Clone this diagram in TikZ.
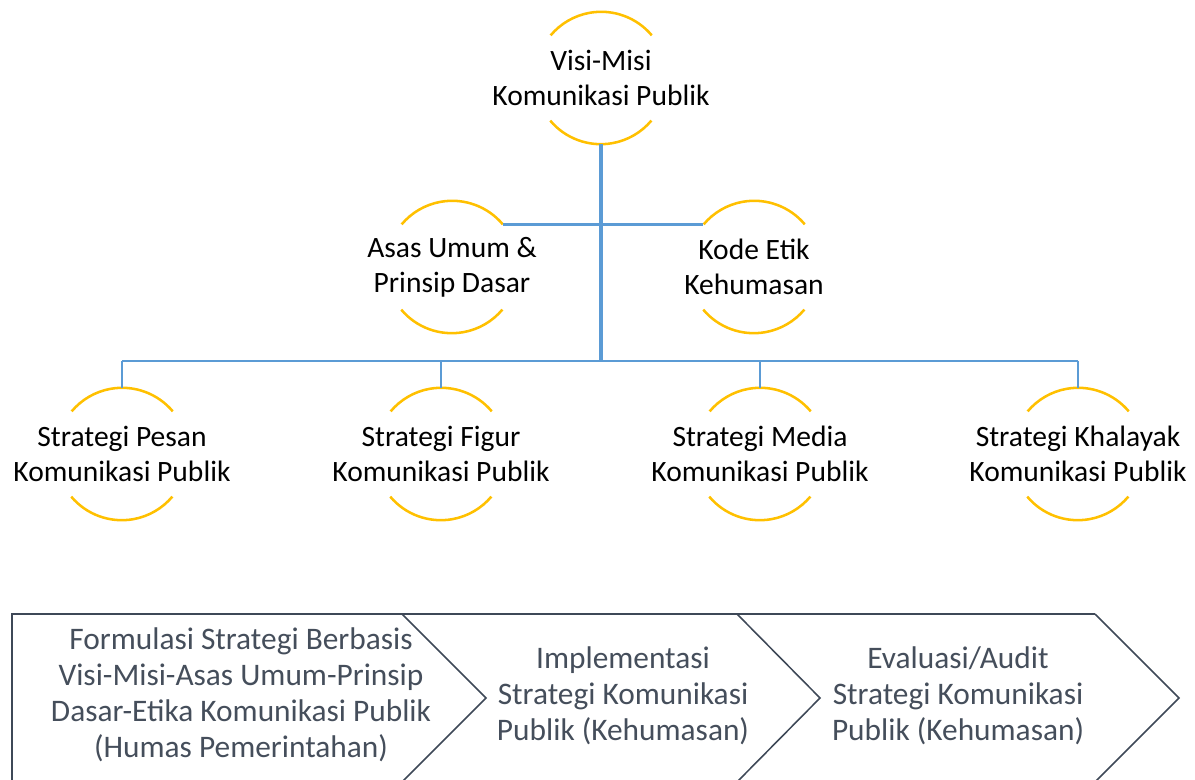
\documentclass[tikz,border=0pt]{standalone}
\usepackage{fontspec}
\setmainfont{Carlito}
\usepackage{tikz}

\definecolor{linkblue}{HTML}{5B9BD5}
\definecolor{ringgold}{HTML}{FFC000}
\definecolor{bandslate}{HTML}{3E4857}
\definecolor{bandtext}{HTML}{454E5B}

\begin{document}
\begin{tikzpicture}[x=0.025cm, y=0.025cm,
			ringspot/.style={circle, minimum size=3.3cm, inner sep=0pt},
			label/.style={align=center, font=\fontsize{21}{24.8}\selectfont},
			steptext/.style={align=center, text=bandtext, font=\fontsize{22.3}{25.5}\selectfont},
			ring/.style={ringgold, line width=1.8pt},
			trunk/.style={linkblue, line width=2.8pt},
			link/.style={linkblue, line width=2pt},
			twig/.style={linkblue, line width=1.8pt},
			chevron/.style={bandslate, line width=1.1pt, line join=miter}]
			\useasboundingbox (0,0) rectangle (1195,780);
			\clip (0,0) rectangle (1195,780);
			% the rings
			\node[ringspot] (visi) at (601,702) {};
			\node[ringspot] (asas) at (452,513) {};
			\node[ringspot] (kode) at (754,513) {};
			\node[ringspot] (pesan) at (122,326) {};
			\node[ringspot] (figur) at (441,326) {};
			\node[ringspot] (media) at (760,326) {};
			\node[ringspot] (khalayak) at (1078,326) {};
			\foreach \n in {visi,asas,kode,pesan,figur,media,khalayak} {
				\draw[ring] (\n.40) arc[start angle=40, end angle=140, radius=1.65cm];
				\draw[ring] (\n.220) arc[start angle=220, end angle=320, radius=1.65cm];
			}
			% the texts
			\node[label] (visi-t) at (visi) {Visi-Misi\\Komunikasi Publik};
			\node[label] (asas-t) at (asas) {Asas Umum \&\\Prinsip Dasar};
			\node[label] (kode-t) at (kode) {Kode Etik\\Kehumasan};
			\node[label] (pesan-t) at (pesan) {Strategi Pesan\\Komunikasi Publik};
			\node[label] (figur-t) at (figur) {Strategi Figur\\Komunikasi Publik};
			\node[label] (media-t) at (media) {Strategi Media\\Komunikasi Publik};
			\node[label] (khalayak-t) at (khalayak) {Strategi Khalayak\\Komunikasi Publik};
			% the lines
			\coordinate (hub) at (601,419);
			\draw[trunk] (visi.south) -- (hub);
			\draw[link] (asas.40) -- (kode.140);
			\draw[link] (pesan.north |- hub) -- (khalayak.north |- hub);
			\foreach \n in {pesan,figur,media,khalayak}
				\draw[twig] (\n.north |- hub) -- (\n.north);
			% the steps
			\draw[bandslate, line width=1.5pt] (12,-5) -- (12,166) -- (1095,166);
			\draw[chevron] (402,166) -- (486,82) -- (402,-2);
			\draw[chevron] (737,166) -- (820,82) -- (737,-2);
			\draw[chevron] (1095,166) -- (1179,82) -- (1095,-2);
			\node[steptext] (formulasi) at (241,85) {Formulasi Strategi Berbasis\\Visi-Misi-Asas Umum-Prinsip\\Dasar-Etika Komunikasi Publik\\(Humas Pemerintahan)};
			\node[steptext] (implementasi) at (623,84) {Implementasi\\Strategi Komunikasi\\Publik (Kehumasan)};
			\node[steptext] (evaluasi) at (958,84) {Evaluasi/Audit\\Strategi Komunikasi\\Publik (Kehumasan)};
\end{tikzpicture}
\end{document}
